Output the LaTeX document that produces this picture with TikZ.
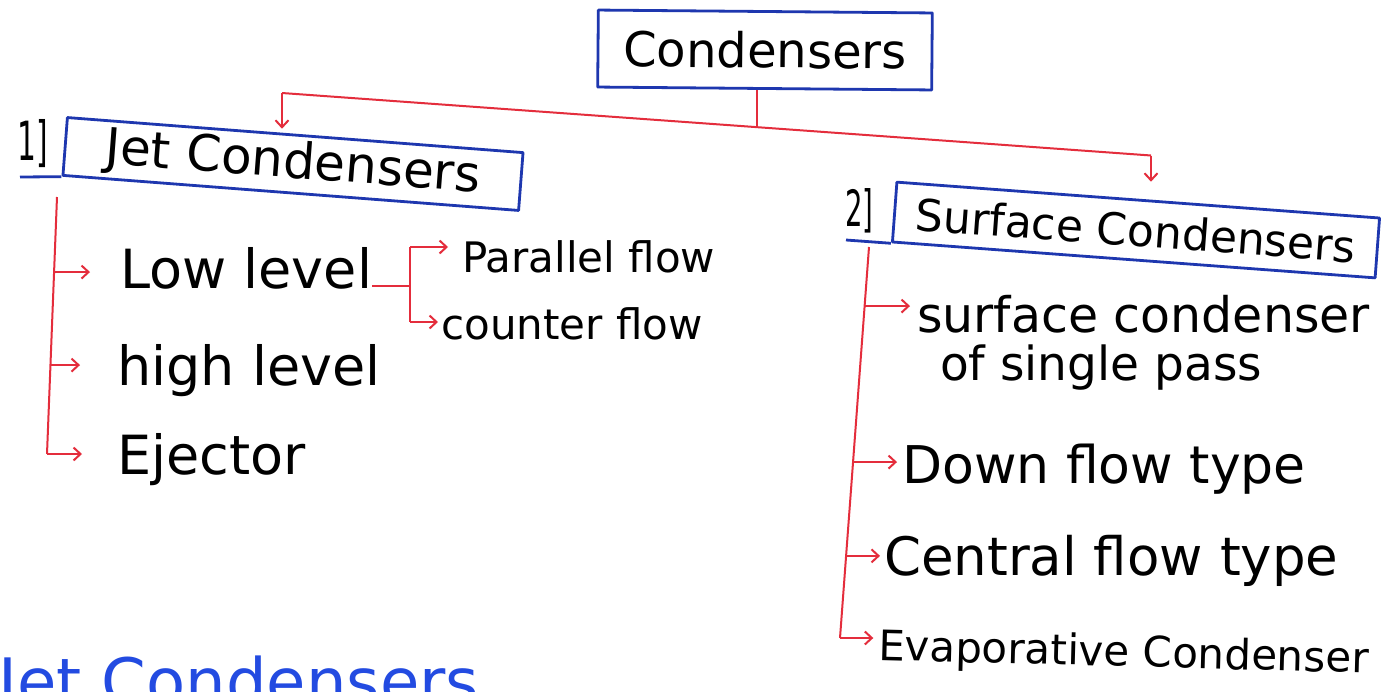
\documentclass[tikz,border=0pt]{standalone}
\usepackage{fontspec}
\setmainfont{DejaVu Sans}
\usetikzlibrary{arrows.meta,calc}
\definecolor{inkred}{RGB}{228,45,60}
\definecolor{inkblue}{RGB}{30,55,175}
\definecolor{penblue}{RGB}{35,75,225}
\newcommand\fsz[1]{\fontsize{#1}{#1}\selectfont}
\begin{document}
\begin{tikzpicture}[x=1pt,y=-1pt,
  box/.style={draw=inkblue,line width=2.8pt,inner sep=0pt,text=black,line join=round},
  link/.style={draw=inkred,line width=2pt},
  arr/.style={link,-{Straight Barb[length=7pt,width=13pt,line width=2pt]}},
  lbl/.style={inner sep=0pt,anchor=base west,text=black},
  ulin/.style={draw=inkblue,line width=2.8pt}]
\clip (0,0) rectangle (1392,691);
\fill[white] (0,0) rectangle (1392,691);

% headings
\node[box,minimum width=334pt,minimum height=77pt,rotate=-0.5] (top) at (765,50) {\fsz{48}Condensers};
\node[box,minimum width=457pt,minimum height=58pt,rotate=-4.4] (jet) at (293,164) {\fsz{50}Jet Condensers};
\node[box,minimum width=484pt,minimum height=60pt,rotate=-4.25] (surf) at (1136,230) {\fsz{44}Surface Condensers};

% numbering with underlines
\node[lbl] (n1) at (17,160) {\scalebox{0.55}[1]{\fsz{54}1]}};
\node[lbl] (n2) at (845,226) {\scalebox{0.55}[1]{\fsz{50}2]}};
\coordinate (u1) at (20,177);
\coordinate (u2) at (846,240);
\draw[ulin] (jet.south west) -- (u1);
\draw[ulin] (surf.south west) -- (u2);

% main split
\coordinate (j) at (757,127);
\coordinate (jl) at (282,93);
\coordinate (jr) at (1151,155.5);
\draw[link] (jl) -- (jr);
\draw[link] (top.south -| j) -- (j);
\draw[arr,shorten >=5pt] (jl) -- (jl |- jet.north);
\draw[arr,shorten >=17pt] (jr) -- (jr |- surf.north);

% jet condenser types
\node[lbl] (low) at (120,288) {\fsz{54}Low level};
\node[lbl] (high) at (117,385) {\fsz{54}high level};
\node[lbl] (ej) at (117,474) {\fsz{54}Ejector};
\coordinate (jv0) at (57,197);
\coordinate (jv1) at (47,454);
\draw[link] (jv0) -- (jv1);
\coordinate (b1) at ($(jv0)!0.292!(jv1)$);
\coordinate (b2) at ($(jv0)!0.654!(jv1)$);
\draw[arr,shorten >=30pt] (b1) -- (b1 -| low.west);
\draw[arr,shorten >=37pt] (b2) -- (b2 -| high.west);
\draw[arr,shorten >=35pt] (jv1) -- (jv1 -| ej.west);

% low level sub-types
\node[lbl] (par) at (462,272) {\fsz{42}Parallel flow};
\node[lbl] (cnt) at (441,339) {\fsz{42}counter flow};
\coordinate (lf) at (410,286);
\coordinate (lt) at (410,247);
\coordinate (lb) at (410,322);
\draw[link] ([yshift=2pt]low.base east) -- (lf);
\draw[link] (lt) -- (lb);
\draw[arr,shorten >=14pt] (lt) -- (lt -| par.west);
\draw[arr,shorten >=3pt] (lb) -- (lb -| cnt.west);

% surface condenser types
\node[lbl] (s1) at (917,332) {\fsz{49}surface condenser};
\node[lbl] (s1b) at (940,380) {\fsz{47}of single pass};
\node[lbl] (s2) at (902,483) {\fsz{52}Down flow type};
\node[lbl] (s3) at (884,575) {\fsz{53}Central flow type};
\node[lbl,rotate=-1.5] (s4) at (878,660) {\fsz{42}Evaporative Condenser};
\coordinate (sv0) at (869,247);
\coordinate (sv1) at (840,638);
\draw[link] (sv0) -- (sv1);
\coordinate (b4) at ($(sv0)!0.151!(sv1)$);
\coordinate (b5) at ($(sv0)!0.55!(sv1)$);
\coordinate (b6) at ($(sv0)!0.79!(sv1)$);
\draw[arr,shorten >=7pt] (b4) -- (b4 -| s1.west);
\draw[arr,shorten >=5pt] (b5) -- (b5 -| s2.west);
\draw[arr,shorten >=4pt] (b6) -- (b6 -| s3.west);
\draw[arr,shorten >=5pt] (sv1) -- (sv1 -| s4.west);

% next heading, running off the lower edge
\node[lbl,text=penblue] (next) at (-2,704) {\fsz{64}Jet Condensers};
\end{tikzpicture}
\end{document}
